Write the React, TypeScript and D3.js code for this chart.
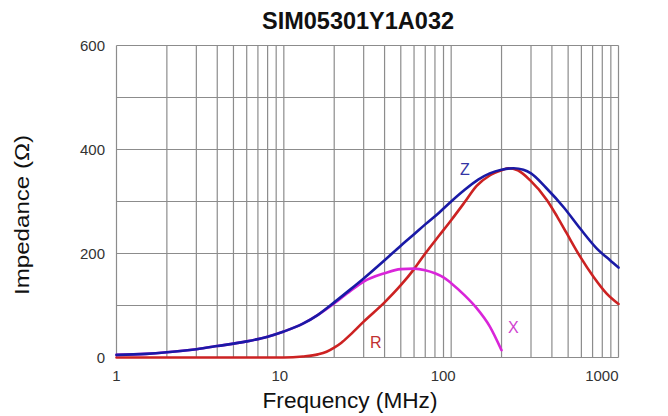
import React from 'react';
import * as d3 from 'd3';

// frequency points (MHz) and impedance (ohm)
const freqZ = [1, 1.5, 2, 3, 4, 6, 8, 10, 13, 16, 20, 25, 30, 40, 50, 60, 70, 85, 100, 120, 145, 170, 200, 236, 270, 300, 370, 470, 590, 740, 890, 1000];
const zValues = [5, 7, 10, 16, 22, 31, 40, 50, 65, 82, 106, 131, 152, 187, 215, 237, 256, 279, 300, 322, 342, 354, 361, 364, 361, 354, 326, 289, 248, 210, 187, 173];

const freqR = [1, 5, 10, 13, 16, 18, 20, 22, 25, 30, 40, 50, 60, 70, 85, 100, 120, 142, 170, 200, 220, 250, 296, 373, 430, 490, 590, 710, 850, 1000];
const rValues = [0, 0, 0, 2, 6, 11, 19, 28, 44, 69, 106, 139, 170, 200, 235, 264, 298, 330, 350, 360, 364, 360, 341, 303, 271, 239, 194, 155, 123, 103];

const freqX = [1, 1.5, 2, 3, 4, 6, 8, 10, 13, 16, 20, 25, 30, 40, 50, 60, 70, 80, 90, 100, 120, 142, 170, 200];
const xValues = [5, 7, 10, 16, 22, 31, 40, 50, 65, 82, 104, 128, 146, 162, 170, 171, 168, 162, 154, 143, 120, 95, 60, 14];

const yTicks = [0, 200, 400, 600];
const yGrid = [0, 100, 200, 300, 400, 500, 600];
const xTicks = [1, 10, 100, 1000];

const font = 'Liberation Sans, Arial, sans-serif';
const gridColor = '#8c8c8c';

export default function App(): React.ReactElement {
  const x = d3.scaleLog().domain([1, 1000]).range([116.5, 618.5]);
  const y = d3.scaleLinear().domain([0, 600]).range([357.5, 45.5]);

  const xGrid: number[] = [];
  for (let d = 1; d < 1000; d *= 10) {
    for (let m = 1; m < 10; m++) xGrid.push(d * m);
  }
  xGrid.push(1000);

  const line = d3.line<[number, number]>()
    .x((d) => x(d[0]))
    .y((d) => y(d[1]))
    .curve(d3.curveMonotoneX);

  const series = [
    { f: freqR, v: rValues, color: '#cc2222' },
    { f: freqX, v: xValues, color: '#d925d9' },
    { f: freqZ, v: zValues, color: '#1a1aa6' },
  ];

  return (
    <svg width={668} height={416} style={{ position: 'absolute', left: 0, top: 0 }}>
      <rect width={668} height={416} fill="#fff" />
      <text x={358} y={29} textAnchor="middle" fontFamily={font} fontWeight="bold" fontSize={23.5} fill="#111">
        SIM05301Y1A032
      </text>

      {yGrid.map((v) => (
        <line key={`h${v}`} x1={x(1)} x2={x(1000)} y1={y(v)} y2={y(v)} stroke={gridColor} strokeWidth={1.2} />
      ))}
      {xGrid.map((f) => (
        <line key={`v${f}`} x1={x(f)} x2={x(f)} y1={y(0)} y2={y(600)} stroke={gridColor} strokeWidth={1.2} />
      ))}

      {yTicks.map((v) => (
        <text key={`yt${v}`} x={105} y={y(v) + 5} textAnchor="end" fontFamily={font} fontSize={15} fill="#333">
          {v}
        </text>
      ))}
      {xTicks.map((f, i) => (
        <text
          key={`xt${f}`}
          x={i === 3 ? x(f) : x(f) - (i === 0 ? 0 : i * 4)}
          y={381}
          textAnchor={i === 3 ? 'end' : 'middle'}
          fontFamily={font}
          fontSize={15}
          fill="#333"
        >
          {f}
        </text>
      ))}

      {series.map((s, i) => (
        <path
          key={`s${i}`}
          d={line(s.f.map((f, j) => [f, s.v[j]] as [number, number])) ?? ''}
          fill="none"
          stroke={s.color}
          strokeWidth={2.6}
          strokeLinejoin="round"
          strokeLinecap="round"
        />
      ))}

      <text x={460} y={175} fontFamily={font} fontSize={16} fill="#3535a5">Z</text>
      <text x={370} y={348} fontFamily={font} fontSize={16} fill="#c03030">R</text>
      <text x={508} y={333} fontFamily={font} fontSize={16} fill="#cf3fcf">X</text>

      <text
        x={350}
        y={408}
        textAnchor="middle"
        fontFamily={font}
        fontSize={21.5}
        textLength={175}
        lengthAdjust="spacingAndGlyphs"
        fill="#111"
      >
        Frequency (MHz)
      </text>
      <text
        transform="translate(29, 215) rotate(-90)"
        textAnchor="middle"
        fontFamily={font}
        fontSize={20.5}
        textLength={160}
        lengthAdjust="spacingAndGlyphs"
        fill="#111"
      >
        Impedance (Ω)
      </text>
    </svg>
  );
}
